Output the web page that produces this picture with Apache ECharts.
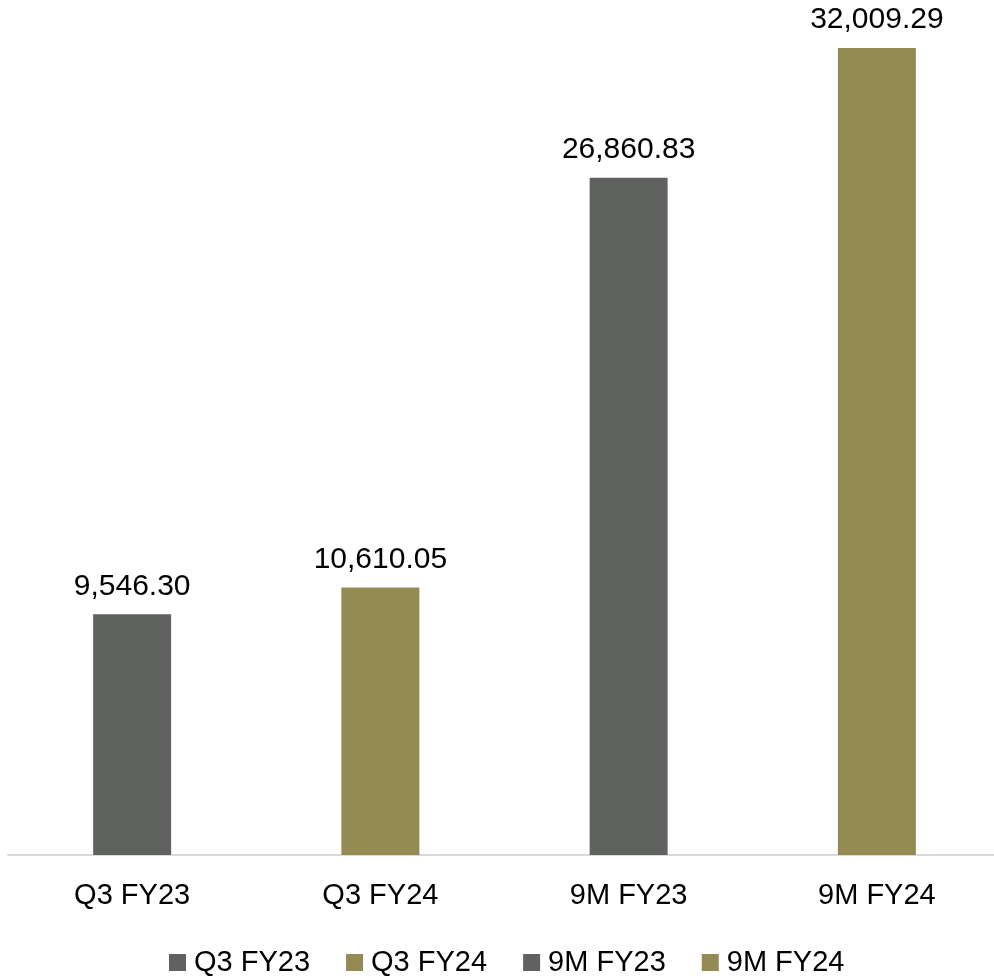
<!DOCTYPE html>
<html><head><meta charset="utf-8">
<script src="https://cdn.jsdelivr.net/npm/echarts@6/dist/echarts.min.js"></script>
<style>html,body{margin:0;padding:0;background:#fff;overflow:hidden;width:994px;height:978px}#c{width:1001px;height:978px}</style>
</head><body><div id="c"></div>
<script>
const categories = ['Q3 FY23', 'Q3 FY24', '9M FY23', '9M FY24'];
const seriesNames = ['Q3 FY23', 'Q3 FY24', '9M FY23', '9M FY24'];
const values = [9546.30, 10610.05, 26860.83, 32009.29];
const colors = ['#606260', '#948A54', '#606260', '#948A54'];

const FONT = 'Liberation Sans';
const chart = echarts.init(document.getElementById('c'));
const series = seriesNames.map((name, i) => ({
  name: name,
  type: 'bar',
  stack: 'all',
  barWidth: 78,
  itemStyle: { color: colors[i] },
  data: categories.map((c, j) => j === i ? values[i] : '-'),
  label: {
    show: true, position: 'top', distance: 13,
    color: '#000', fontFamily: FONT, fontSize: 30,
    formatter: p => Number(p.value).toLocaleString('en-US', { minimumFractionDigits: 2, maximumFractionDigits: 2 })
  }
}));
chart.setOption({
  animation: false,
  grid: { left: 8, right: 0, top: 48, bottom: 123 },
  legend: {
    top: 943, left: 164, itemWidth: 17, itemHeight: 17, itemGap: 36,
    icon: 'rect',
    textStyle: { fontFamily: FONT, fontSize: 29, color: '#000', padding: [0, 0, 0, 3] },
    data: seriesNames
  },
  xAxis: {
    type: 'category', data: categories,
    axisLine: { lineStyle: { color: '#d9d9d9', width: 2 } },
    axisTick: { show: false },
    axisLabel: { color: '#000', fontFamily: FONT, fontSize: 29, margin: 26 }
  },
  yAxis: { type: 'value', min: 0, max: 'dataMax', show: false, splitLine: { show: false } },
  series: series
});
</script></body></html>
